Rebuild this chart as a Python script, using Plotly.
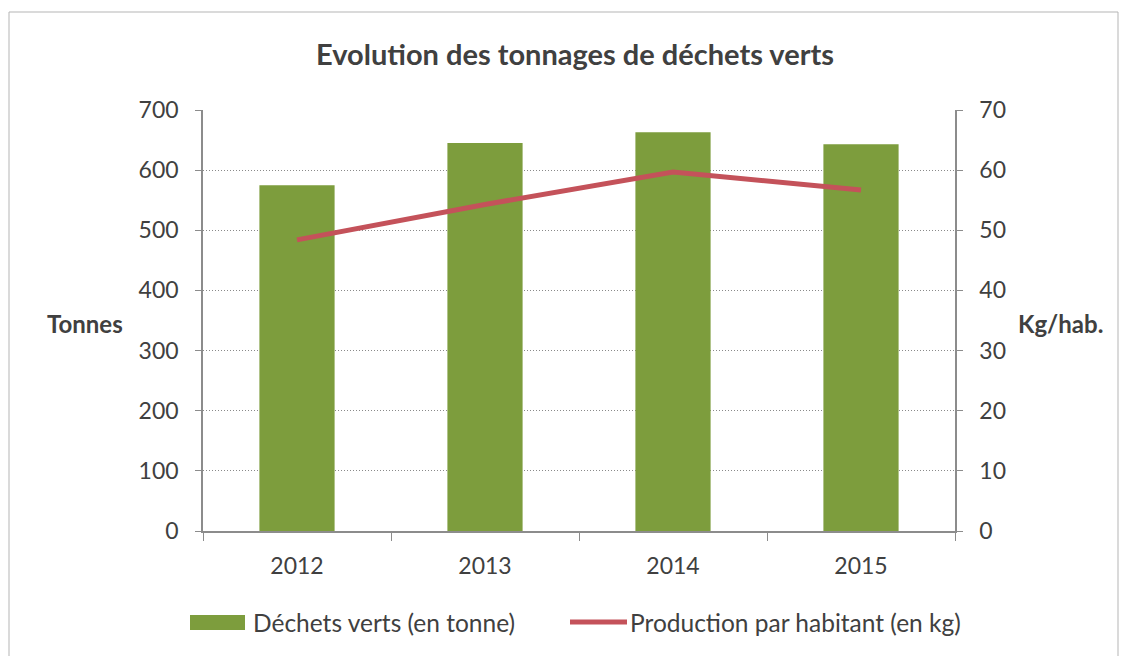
import plotly.graph_objects as go

years = ["2012", "2013", "2014", "2015"]
tonnes = [575, 645, 663, 643]
kg_per_hab = [48.4, 54.3, 59.7, 56.7]

title = "Evolution des tonnages de déchets verts"
bar_name = "Déchets verts (en tonne)"
line_name = "Production par habitant (en kg)"

FONT = "Lato, 'Open Sans', sans-serif"
TXT = "#404040"
GREEN = "#7d9d3d"
RED = "#c4525a"

fig = go.Figure()
fig.add_trace(go.Bar(x=years, y=tonnes, name=bar_name, marker=dict(color=GREEN, line=dict(width=0)),
                     yaxis="y"))
fig.add_trace(go.Scatter(x=years, y=kg_per_hab, name=line_name, mode="lines",
                         line=dict(color=RED, width=5), yaxis="y2"))

OFF = 8  # page body offset
W, H = 1131, 656
L, R, T, B = 203 - OFF, 955 - OFF, 110 - OFF, 531 - OFF

def px(x):
    return (x - OFF - L) / (R - L)

def py(y):
    return (B - (y - OFF)) / (B - T)

fig.update_layout(
    width=W, height=H,
    margin=dict(l=L, r=W - R, t=T, b=H - B, autoexpand=False),
    paper_bgcolor="white", plot_bgcolor="white",
    font=dict(family=FONT, color=TXT, size=23),
    title=dict(text=title, x=px(575), xanchor="center", xref="paper", y=1 - (55 - OFF) / H, yanchor="middle",
               font=dict(family=FONT, size=29, color=TXT, weight="bold")),
    bargap=0.6,
    showlegend=False,
    xaxis=dict(showline=True, linecolor="#8c8c8c", linewidth=1.5, ticks="outside", tickson="boundaries",
               ticklen=8, tickcolor="#8c8c8c", showgrid=False, ticklabelstandoff=14,
               tickfont=dict(size=23, color=TXT)),
    yaxis=dict(range=[0, 700], dtick=100, showline=True, linecolor="#8c8c8c", linewidth=1.5,
               ticks="outside", ticklen=6, tickcolor="#8c8c8c", showgrid=True, gridcolor="#8a8a8a",
               griddash="1px,2px", gridwidth=1, zeroline=False, ticklabelstandoff=12,
               tickfont=dict(size=23, color=TXT)),
    yaxis2=dict(range=[0, 70], dtick=10, overlaying="y", side="right", showline=True,
                linecolor="#8c8c8c", linewidth=1.5, ticks="outside", ticklen=6, tickcolor="#8c8c8c",
                showgrid=False, zeroline=False, ticklabelstandoff=12,
                tickfont=dict(size=23, color=TXT)),
)

fig.add_annotation(text="<b>Tonnes</b>", x=px(85), y=py(323), xref="paper", yref="paper",
                   xanchor="center", yanchor="middle", showarrow=False, font=dict(size=24, color=TXT))
fig.add_annotation(text="<b>Kg/hab.</b>", x=px(1060), y=py(323), xref="paper", yref="paper",
                   xanchor="center", yanchor="middle", showarrow=False, font=dict(size=24, color=TXT))

# legend (drawn manually to match the wide swatches)
fig.add_shape(type="rect", xref="paper", yref="paper", x0=px(190), x1=px(245), y0=py(630), y1=py(615),
              fillcolor=GREEN, line=dict(width=0))
fig.add_annotation(text=bar_name, x=px(251), y=py(622), xref="paper", yref="paper", xanchor="left",
                   yanchor="middle", showarrow=False, font=dict(size=24.5, color=TXT))
fig.add_shape(type="line", xref="paper", yref="paper", x0=px(570), x1=px(627), y0=py(622), y1=py(622),
              line=dict(color=RED, width=5))
fig.add_annotation(text=line_name, x=px(628), y=py(622), xref="paper", yref="paper", xanchor="left",
                   yanchor="middle", showarrow=False, font=dict(size=24.5, color=TXT))

border = dict(color="#b5b5b5", width=1)
fig.add_shape(type="line", xref="paper", yref="paper", x0=px(9), x1=px(9), y0=py(656), y1=py(12), line=border)
fig.add_shape(type="line", xref="paper", yref="paper", x0=px(9), x1=px(1118), y0=py(12), y1=py(12), line=border)
fig.add_shape(type="line", xref="paper", yref="paper", x0=px(1118), x1=px(1118), y0=py(12), y1=py(656), line=border)

fig.write_html("out.html")
